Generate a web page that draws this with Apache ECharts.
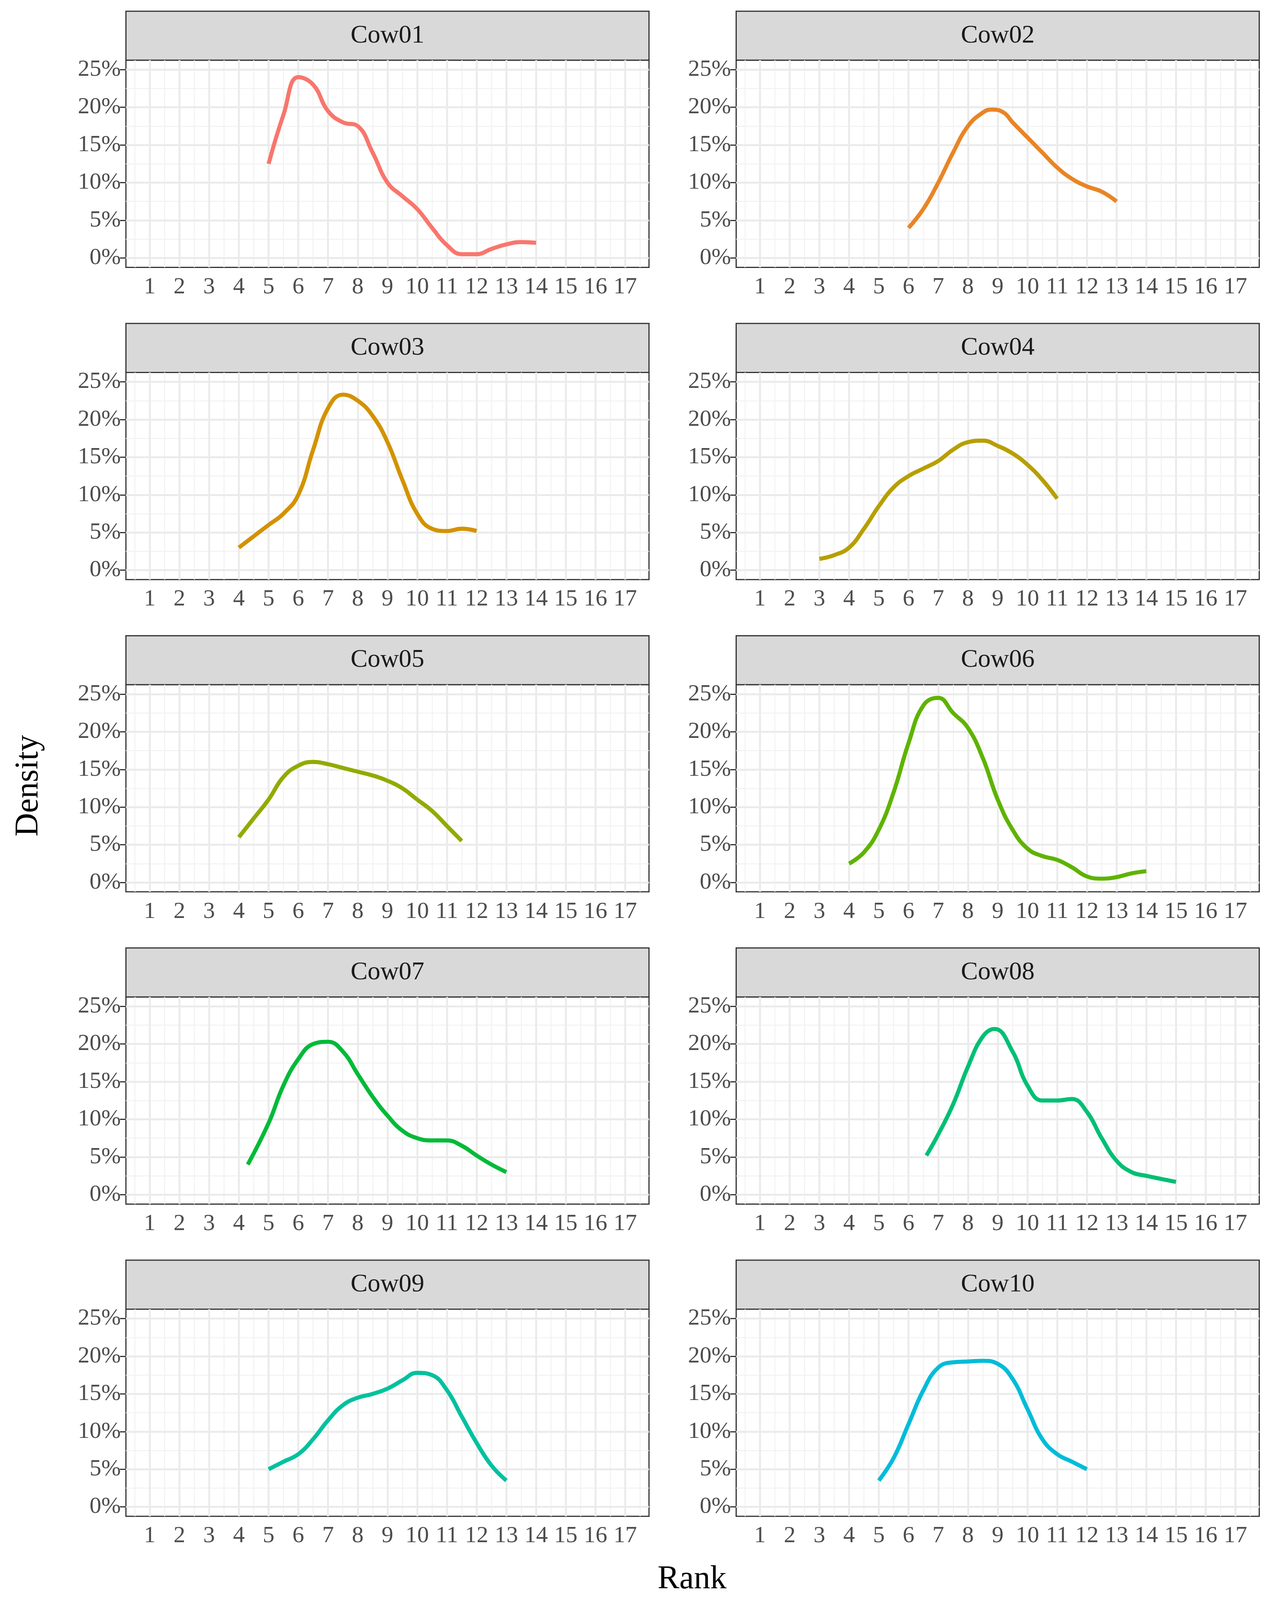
<!DOCTYPE html>
<html><head><meta charset="utf-8">
<script src="https://cdn.jsdelivr.net/npm/echarts@6/dist/echarts.min.js"></script>
<style>html,body{margin:0;padding:0;background:#fff;overflow:hidden}#c{width:100vw;height:100vh}</style>
</head><body><div id="c"></div>
<script>
const cows = ["Cow01","Cow02","Cow03","Cow04","Cow05","Cow06","Cow07","Cow08","Cow09","Cow10"];
const colors = ["#F8766D","#E88526","#D39200","#B79F00","#93AA00","#5EB300","#00BA38","#00BF74","#00C19F","#00BCD8"];
const xTicks = [1,2,3,4,5,6,7,8,9,10,11,12,13,14,15,16,17];
const yTicks = [0,5,10,15,20,25];
const cow01 = [[5,12.5],[5.5,19],[6,24],[6.5,23],[7,19.5],[7.5,18],[8,17.5],[8.5,14],[9,10],[9.5,8.2],[10,6.5],[10.5,4],[11,1.7],[11.5,0.5],[12,0.5],[12.5,1.2],[13,1.8],[13.5,2.1],[14,2]];
const cow02 = [[6,4],[6.5,6.5],[7,10],[7.5,14],[8,17.5],[8.5,19.3],[8.8,19.7],[9.2,19.3],[9.5,18],[10,16],[10.5,14],[11,12],[11.5,10.5],[12,9.5],[12.5,8.8],[13,7.5]];
const cow03 = [[4,3],[4.5,4.5],[5,6],[5.5,7.5],[6,10],[6.5,16],[7,21.5],[7.5,23.3],[8,22.5],[8.5,20.5],[9,17],[9.5,12],[10,7.5],[10.5,5.5],[11,5.2],[11.5,5.5],[12,5.2]];
const cow04 = [[3,1.5],[3.5,2],[4,3],[4.5,5.5],[5,8.5],[5.5,11],[6,12.5],[6.5,13.5],[7,14.5],[7.5,16],[8,17],[8.5,17.2],[9,16.5],[9.5,15.5],[10,14],[10.5,12],[11,9.5]];
const cow05 = [[4,6],[4.5,8.5],[5,11],[5.5,14],[6,15.5],[6.5,16],[7,15.7],[7.5,15.2],[8,14.7],[8.5,14.2],[9,13.5],[9.5,12.5],[10,11],[10.5,9.5],[11,7.5],[11.5,5.5]];
const cow06 = [[4,2.5],[4.5,4],[5,7],[5.5,12],[6,18.5],[6.5,23.5],[7,24.5],[7.5,22.5],[8,20.5],[8.5,16.5],[9,11],[9.5,7],[10,4.5],[10.5,3.5],[11,3],[11.5,2],[12,0.8],[12.5,0.5],[13,0.7],[13.5,1.2],[14,1.5]];
const cow07 = [[4.3,4],[5,9.5],[5.5,14.5],[6,18],[6.5,20],[7,20.3],[7.5,19],[8,16],[8.5,13],[9,10.5],[9.5,8.5],[10,7.5],[10.5,7.2],[11,7.2],[11.5,6.5],[12,5.2],[12.5,4],[13,3]];
const cow08 = [[6.6,5.2],[7,8],[7.5,12],[8,17],[8.5,21],[8.9,22],[9.5,19],[10,14.5],[10.5,12.5],[11,12.5],[11.5,12.7],[12,11],[12.5,7.5],[13,4.5],[13.5,3],[14,2.5],[15,1.7]];
const cow09 = [[5,5],[5.5,6],[6,7],[6.5,9],[7,11.5],[7.5,13.5],[8,14.5],[8.5,15],[9,15.7],[9.5,16.8],[10,17.8],[10.5,17.5],[11,15.5],[11.5,12],[12,8.5],[12.5,5.5],[13,3.5]];
const cow10 = [[5,3.5],[5.5,6.5],[6,11],[6.5,15.5],[7,18.5],[7.5,19.2],[8,19.3],[8.5,19.4],[9,19],[9.5,17],[10,13],[10.5,9],[11,7],[11.5,6],[12,5]];
const allData = [cow01,cow02,cow03,cow04,cow05,cow06,cow07,cow08,cow09,cow10];

const W = window.innerWidth, H = window.innerHeight;
const sx = W/1180, sy = H/1568, s = Math.min(sx, sy);
const F = "Liberation Serif, DejaVu Serif, serif";
const grids=[],xAxes=[],yAxes=[],series=[],graphic=[];
const xMajor = xTicks, xMinor = xTicks.slice(0,-1).map(v=>v+0.5).concat([0.5,17.5]);
const yMajor = yTicks, yMinor = [2.5,7.5,12.5,17.5,22.5];
const ml=(vals,axis)=>vals.map(v=>axis==='x'?{xAxis:v}:{yAxis:v});
for(let i=0;i<10;i++){
  const r=Math.floor(i/2), c=i%2;
  const left = (c?684:117)*sx, w=486*sx;
  const top=(59+306*r)*sy, h=203*sy, stripTop=(11+306*r)*sy;
  grids.push({left:left,top:top,width:w,height:h,show:true,borderColor:'#333',borderWidth:3,backgroundColor:'#fff',containLabel:false});
  xAxes.push({type:'value',gridIndex:i,min:0.2,max:17.8,splitLine:{show:false},axisLine:{show:false},
    axisTick:{show:true,customValues:xTicks,length:16*s/2.755,lineStyle:{color:'#333',width:3}},
    axisLabel:{customValues:xTicks,hideOverlap:false,fontFamily:F,fontSize:23*s,color:'#4D4D4D',margin:8*s}});
  yAxes.push({type:'value',gridIndex:i,min:-1.25,max:26.25,splitLine:{show:false},axisLine:{show:false},
    axisTick:{show:true,customValues:yTicks,length:16*s/2.755,lineStyle:{color:'#333',width:3}},
    axisLabel:{customValues:yTicks,hideOverlap:false,formatter:v=>v+'%',fontFamily:F,fontSize:23*s,color:'#4D4D4D',margin:5*s}});
  series.push({type:'line',xAxisIndex:i,yAxisIndex:i,data:[],silent:true,z:1,
    markLine:{silent:true,symbol:'none',z:1,label:{show:false},animation:false,lineStyle:{color:'#F2F2F2',width:2.5,type:'solid'},
      data:ml(xMinor,'x').concat(ml(yMinor,'y'))}});
  series.push({type:'line',xAxisIndex:i,yAxisIndex:i,data:[],silent:true,z:1,
    markLine:{silent:true,symbol:'none',z:1,label:{show:false},animation:false,lineStyle:{color:'#EBEBEB',width:5,type:'solid'},
      data:ml(xMajor,'x').concat(ml(yMajor,'y'))}});
  series.push({type:'line',xAxisIndex:i,yAxisIndex:i,data:allData[i],smooth:0.45,showSymbol:false,z:10,zlevel:1,
    lineStyle:{color:colors[i],width:4*s},animation:false});
  graphic.push({type:'rect',shape:{x:left,y:stripTop,width:w,height:top-stripTop},style:{fill:'#D9D9D9',stroke:'#333',lineWidth:3}});
  graphic.push({type:'text',x:left+w/2,y:stripTop+(top-stripTop)/2,style:{text:cows[i],font:(25*s)+'px '+F,fill:'#1A1A1A',align:'center',verticalAlign:'middle'}});
}
graphic.push({type:'text',x:643*sx,y:1548*sy,style:{text:'Rank',font:(32*s)+'px '+F,fill:'#000',align:'center',verticalAlign:'middle'}});
graphic.push({type:'text',x:27*sx,y:770*sy,rotation:Math.PI/2,style:{text:'Density',font:(32*s)+'px '+F,fill:'#000',align:'center',verticalAlign:'middle'}});
const chart=echarts.init(document.getElementById('c'));
chart.setOption({animation:false,grid:grids,xAxis:xAxes,yAxis:yAxes,series:series,graphic:graphic});
</script></body></html>
